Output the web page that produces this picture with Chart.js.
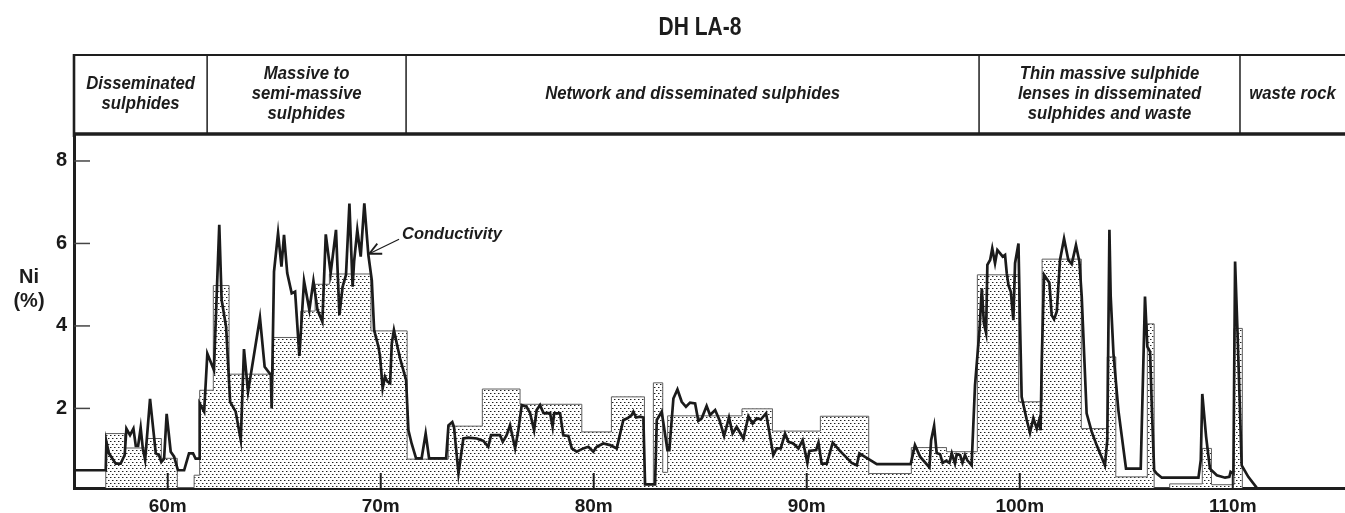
<!DOCTYPE html>
<html><head><meta charset="utf-8">
<script src="https://cdn.jsdelivr.net/npm/chart.js@4.4.1/dist/chart.umd.min.js"></script>
<style>html,body{margin:0;padding:0;background:#fff;}#wrap{width:1345px;height:513px;position:relative;}</style>
</head><body><div id="wrap"><canvas id="c" width="1345" height="513"></canvas></div>
<script>
// ---------- data ----------
const chartTitle = "DH LA-8";
const yTitle = ["Ni", "(%)"];
const xTicks = [60, 70, 80, 90, 100, 110];
const yTicks = [2, 4, 6, 8];
const xRange = [55.6, 115.27];
const yRange = [0.07, 8.63];
const zoneBounds = [61.85, 71.19, 98.09, 110.34];
const zoneLabels = [
  ["Disseminated", "sulphides"],
  ["Massive to", "semi-massive", "sulphides"],
  ["Network and disseminated sulphides"],
  ["Thin massive sulphide", "lenses in disseminated", "sulphides and waste"],
  ["waste rock"]
];
// Ni assay intervals [depth (m), Ni %] (value holds until next depth)
const niPoints = [
  [57.09,0.07],[57.09,1.39],[57.98,1.04],[59.01,1.27],[59.70,0.79],[60.45,0.08],[61.24,0.38],[61.50,2.44],
  [62.14,4.98],[62.88,2.83],[64.96,3.72],[66.25,4.36],[66.92,5.01],[67.59,5.26],[69.54,3.88],[71.24,0.77],
  [73.17,1.57],[74.77,2.47],[76.54,2.10],[79.44,1.43],[80.83,2.28],[82.38,0.15],[82.80,2.62],[83.24,0.45],
  [83.47,1.82],[86.96,1.99],[88.39,1.45],[90.64,1.81],[92.91,0.42],[94.91,1.05],[96.56,0.95],[98.01,5.24],
  [99.95,2.16],[101.05,5.62],[102.89,1.51],[104.11,3.25],[104.51,0.34],[105.99,4.05],[106.31,0.07],[107.04,0.17],
  [108.57,1.03],[109.00,0.15],[110.06,3.94],[110.45,0.07]
];
// Conductivity log [depth (m), value on Ni scale]
const condPoints = [
  [55.60,0.50],[57.09,0.50],[57.12,1.19],[57.24,0.91],[57.56,0.66],[57.79,0.66],[57.98,0.87],[58.06,1.51],
  [58.23,1.35],[58.39,1.51],[58.50,1.09],[58.61,1.09],[58.73,1.53],[58.83,1.03],[58.94,0.75],[59.17,2.23],
  [59.44,0.91],[59.59,0.87],[59.70,0.70],[59.83,0.78],[59.95,1.87],[60.14,0.95],[60.30,0.83],[60.48,0.50],
  [60.77,0.50],[61.00,0.91],[61.19,0.91],[61.31,0.78],[61.47,0.78],[61.50,2.12],[61.71,1.92],[61.86,3.33],
  [62.17,2.93],[62.42,6.45],[62.53,4.63],[62.74,3.98],[62.93,2.16],[63.19,1.92],[63.43,1.23],[63.58,3.44],
  [63.77,2.40],[64.33,4.20],[64.55,3.01],[64.84,2.81],[64.88,2.00],[64.99,5.32],[65.18,6.25],[65.34,5.44],
  [65.46,6.21],[65.61,5.28],[65.82,4.79],[65.98,4.83],[66.18,3.27],[66.40,5.09],[66.65,4.39],[66.84,5.09],
  [67.03,4.39],[67.26,4.10],[67.42,6.22],[67.65,5.28],[67.90,6.33],[68.06,4.26],[68.21,4.95],[68.37,5.24],
  [68.53,6.97],[68.68,4.95],[68.75,5.56],[68.90,6.33],[69.06,5.68],[69.23,6.97],[69.42,5.72],[69.58,5.11],
  [69.69,3.90],[69.89,3.50],[69.97,3.25],[70.09,2.49],[70.20,2.77],[70.31,2.65],[70.44,2.61],[70.52,3.58],
  [70.62,3.90],[70.75,3.58],[70.91,3.21],[71.06,2.93],[71.19,2.69],[71.30,1.47],[71.45,1.15],[71.66,0.79],
  [71.92,0.79],[72.11,1.39],[72.27,0.79],[73.07,0.79],[73.18,1.59],[73.36,1.67],[73.44,1.55],[73.65,0.42],
  [73.88,1.27],[74.11,1.29],[74.51,1.27],[74.82,1.21],[75.05,1.07],[75.18,1.35],[75.60,1.35],[75.73,1.19],
  [75.91,1.35],[76.07,1.59],[76.31,1.03],[76.46,1.47],[76.62,2.08],[76.85,2.04],[77.01,1.89],[77.20,1.47],
  [77.32,1.96],[77.48,2.08],[77.64,1.89],[77.79,1.88],[77.95,1.89],[78.07,1.55],[78.14,1.88],[78.42,1.88],
  [78.57,1.35],[78.81,1.33],[78.97,1.03],[79.20,0.95],[79.51,1.03],[79.75,1.07],[79.98,0.95],[80.14,1.07],
  [80.45,1.15],[80.77,1.11],[81.08,1.03],[81.39,1.72],[81.58,1.76],[81.78,1.84],[81.86,1.92],[81.99,1.78],
  [82.17,1.80],[82.33,1.78],[82.41,0.16],[82.88,0.16],[82.96,1.72],[83.19,1.92],[83.46,0.99],[83.55,0.99],
  [83.74,2.24],[83.93,2.46],[84.13,2.16],[84.33,2.04],[84.52,2.14],[84.76,2.12],[84.91,1.70],[85.07,1.76],
  [85.30,2.06],[85.46,1.84],[85.70,1.96],[85.90,1.72],[86.12,1.33],[86.35,1.78],[86.52,1.39],[86.71,1.55],
  [87.03,1.27],[87.26,1.81],[87.46,1.63],[87.65,1.76],[87.84,1.73],[88.09,1.88],[88.43,0.87],[88.59,1.03],
  [88.78,1.03],[88.98,1.39],[89.14,1.19],[89.37,1.15],[89.61,1.03],[89.81,1.23],[90.03,0.68],[90.12,0.97],
  [90.44,0.99],[90.55,1.17],[90.70,0.66],[90.94,0.66],[91.22,1.17],[91.56,0.97],[92.11,0.68],[92.35,0.62],
  [92.47,0.91],[93.29,0.65],[94.88,0.65],[95.08,1.11],[95.32,0.83],[95.76,0.57],[95.84,1.23],[95.98,1.58],
  [96.10,0.92],[96.26,0.89],[96.38,0.68],[96.54,0.73],[96.70,0.68],[96.81,0.91],[96.96,0.66],[97.04,0.89],
  [97.20,0.87],[97.31,0.68],[97.43,0.87],[97.54,0.74],[97.74,0.62],[97.90,2.56],[98.11,3.90],[98.22,4.91],
  [98.32,4.06],[98.42,3.83],[98.48,5.48],[98.61,5.60],[98.71,5.88],[98.84,5.52],[98.95,5.84],[99.08,5.76],
  [99.20,5.68],[99.31,5.72],[99.39,5.28],[99.47,4.99],[99.58,4.83],[99.70,4.14],[99.78,5.52],[99.94,6.00],
  [100.01,4.14],[100.09,2.28],[100.33,1.72],[100.48,1.41],[100.64,1.76],[100.80,1.51],[100.92,1.73],[100.98,1.47],
  [101.03,3.09],[101.14,5.24],[101.39,5.05],[101.50,4.26],[101.61,4.16],[101.74,4.35],[101.89,5.60],[102.08,6.12],
  [102.28,5.60],[102.44,5.50],[102.64,5.96],[102.80,5.56],[102.91,4.71],[103.14,1.88],[103.38,1.43],[103.61,1.11],
  [104.00,0.62],[104.11,1.23],[104.21,6.33],[104.27,4.71],[104.40,3.33],[104.63,1.96],[104.99,0.54],[105.68,0.54],
  [105.88,4.71],[105.99,3.50],[106.12,3.37],[106.20,2.04],[106.31,0.50],[106.43,0.42],[106.67,0.32],[108.39,0.32],
  [108.50,0.75],[108.57,2.35],[108.75,1.31],[108.93,0.54],[109.25,0.38],[109.64,0.32],[109.84,0.34],[109.90,0.46],
  [110.03,0.42],[110.11,5.56],[110.22,3.90],[110.42,0.62],[110.73,0.34],[111.12,0.08]
];
const noteText = "Conductivity";
const noteTextAt = [71.0, 6.12];
const noteArrowFrom = [70.86, 6.10];
const noteArrowTo = [69.46, 5.75];

// ---------- drawing ----------
const FONT = '"Liberation Sans", Arial, Helvetica, sans-serif';
const canvas = document.getElementById('c');
const c2d = canvas.getContext('2d');

function stipple() {
  const t = document.createElement('canvas');
  t.width = 4; t.height = 6;
  const g = t.getContext('2d');
  g.fillStyle = '#ffffff'; g.fillRect(0, 0, 4, 6);
  g.fillStyle = '#9a9a9a';
  g.fillRect(1, 0, 1, 1); g.fillRect(3, 3, 1, 1);
  g.fillStyle = '#202020';
  g.fillRect(0, 0, 1, 1); g.fillRect(2, 3, 1, 1);
  return c2d.createPattern(t, 'repeat');
}

function txt(ctx, s, x, y, font, sx, align, base) {
  ctx.save();
  ctx.font = font;
  ctx.textAlign = align || 'center';
  ctx.textBaseline = base || 'alphabetic';
  ctx.translate(x, y);
  ctx.scale(sx, 1);
  ctx.fillText(s, 0, 0);
  ctx.restore();
}
function seg(ctx, x1, y1, x2, y2) { ctx.beginPath(); ctx.moveTo(x1, y1); ctx.lineTo(x2, y2); ctx.stroke(); }

const overlay = {
  id: 'overlay',
  afterDraw(chart) {
    const ctx = chart.ctx, a = chart.chartArea, xs = chart.scales.x, ys = chart.scales.y;
    ctx.save();
    ctx.fillStyle = '#1c1c1c';
    ctx.strokeStyle = '#1e1e1e';
    // title
    txt(ctx, chartTitle, 700, 35, 'bold 25px ' + FONT, 0.84);
    // header box
    const top = 55, bot = a.top - 1;
    ctx.lineWidth = 2; seg(ctx, a.left - 1, top, a.right, top);
    ctx.lineWidth = 3.5; seg(ctx, a.left - 1, bot, a.right, bot);
    ctx.lineWidth = 2.6; seg(ctx, a.left, top - 1, a.left, a.top + 2);
    const edges = [a.left].concat(zoneBounds.map(v => xs.getPixelForValue(v))).concat([a.right]);
    ctx.lineWidth = 1.5;
    for (let i = 1; i < edges.length - 1; i++) seg(ctx, edges[i], top, edges[i], bot);
    const midY = 94, lh = 20;
    zoneLabels.forEach((lines, i) => {
      const cx = (edges[i] + edges[i + 1]) / 2;
      const y0 = midY - (lines.length - 1) * lh / 2;
      lines.forEach((s, j) => txt(ctx, s, cx, y0 + j * lh, 'italic bold 18px ' + FONT, 0.93, 'center', 'middle'));
    });
    // inner tick marks
    ctx.strokeStyle = '#444';
    ctx.lineWidth = 1.5;
    yTicks.forEach(v => { const y = ys.getPixelForValue(v); seg(ctx, a.left, y, a.left + 16, y); });
    ctx.strokeStyle = '#222';
    ctx.lineWidth = 2;
    xTicks.forEach(v => { const x = xs.getPixelForValue(v); seg(ctx, x, a.bottom, x, a.bottom - 15); });
    // y title
    txt(ctx, yTitle[0], 29, 283, 'bold 20px ' + FONT, 1);
    txt(ctx, yTitle[1], 29, 307, 'bold 20px ' + FONT, 1);
    // annotation
    const tx = xs.getPixelForValue(noteTextAt[0]), ty = ys.getPixelForValue(noteTextAt[1]);
    txt(ctx, noteText, tx, ty, 'italic bold 16.5px ' + FONT, 1, 'left');
    const fx = xs.getPixelForValue(noteArrowFrom[0]), fy = ys.getPixelForValue(noteArrowFrom[1]);
    const px = xs.getPixelForValue(noteArrowTo[0]), py = ys.getPixelForValue(noteArrowTo[1]);
    ctx.strokeStyle = '#1c1c1c';
    ctx.lineWidth = 1.2;
    seg(ctx, fx, fy, px, py);
    const ang = Math.atan2(fy - py, fx - px), L = 13, sp = 0.45;
    ctx.lineWidth = 1.8;
    seg(ctx, px, py, px + L * Math.cos(ang - sp), py + L * Math.sin(ang - sp));
    seg(ctx, px, py, px + L * Math.cos(ang + sp), py + L * Math.sin(ang + sp));
    ctx.restore();
  }
};

new Chart(canvas, {
  type: 'line',
  data: {
    datasets: [
      {
        label: 'Conductivity',
        data: condPoints.map(p => ({ x: p[0], y: p[1] })),
        borderColor: '#1b1b1b', borderWidth: 2.7, pointRadius: 0, fill: false, tension: 0, order: 0
      },
      {
        label: 'Ni (%)',
        data: niPoints.map(p => ({ x: p[0], y: p[1] })),
        stepped: 'before', borderColor: '#5e5e5e', borderWidth: 1,
        backgroundColor: stipple(), fill: 'origin', pointRadius: 0, order: 1
      }
    ]
  },
  options: {
    responsive: false, animation: false, events: [], devicePixelRatio: 1,
    layout: { padding: { top: 135, left: 0, right: 0, bottom: 0 } },
    plugins: { legend: { display: false }, tooltip: { enabled: false }, title: { display: false } },
    scales: {
      x: {
        type: 'linear', min: xRange[0], max: xRange[1],
        grid: { display: false, drawTicks: false },
        border: { display: true, width: 3, color: '#1e1e1e' },
        afterBuildTicks: s => { s.ticks = xTicks.map(v => ({ value: v })); },
        afterFit: s => { s.height = 25; },
        ticks: { autoSkip: false, maxRotation: 0, padding: 7, color: '#1a1a1a',
                 font: { family: FONT, size: 19, weight: 'bold' }, callback: v => v + 'm' }
      },
      y: {
        type: 'linear', min: yRange[0], max: yRange[1],
        grid: { display: false, drawTicks: false },
        border: { display: true, width: 3, color: '#1e1e1e' },
        afterBuildTicks: s => { s.ticks = yTicks.map(v => ({ value: v })); },
        afterFit: s => { s.width = 74; },
        ticks: { padding: 7, color: '#1a1a1a', font: { family: FONT, size: 20, weight: 'bold' } }
      }
    }
  },
  plugins: [overlay]
});
</script>
</body></html>
